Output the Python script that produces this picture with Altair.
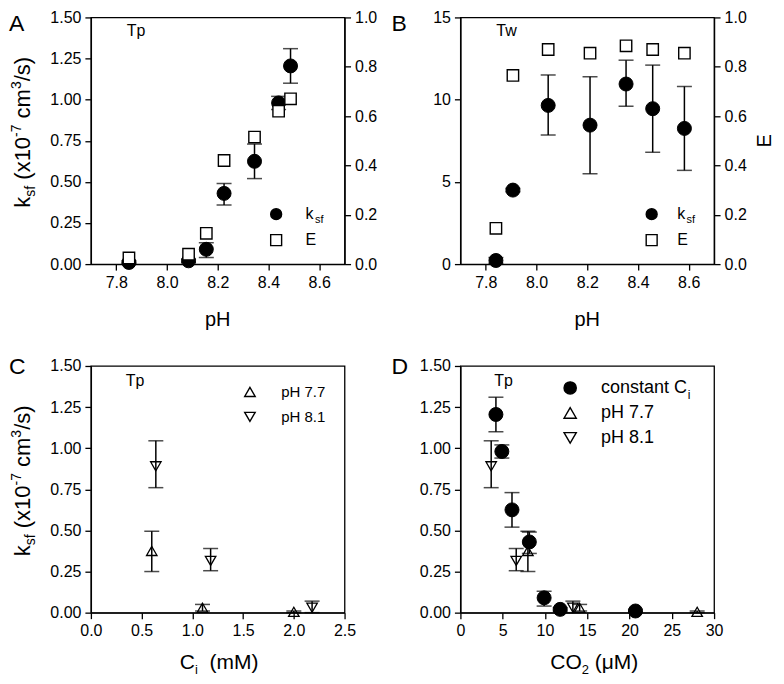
import altair as alt
import pandas as pd

# ---------------- data ----------------
# Panel A (Tp): k_sf (x1e-7 cm3/s) and E vs pH
A_ph = [7.85, 8.085, 8.155, 8.225, 8.345, 8.44, 8.487]
A_ksf = [0.01, 0.02, 0.09, 0.43, 0.625, 0.98, 1.205]
A_lo = [0.005, 0.01, 0.04, 0.36, 0.52, 0.94, 1.10]
A_hi = [0.02, 0.03, 0.13, 0.49, 0.73, 1.02, 1.31]
A_E = [0.025, 0.04, 0.125, 0.42, 0.515, 0.62, 0.67]

# Panel B (Tw)
B_ph = [7.84, 7.907, 8.046, 8.211, 8.353, 8.458, 8.583]
B_ksf = [0.22, 4.5, 9.65, 8.45, 10.95, 9.45, 8.25]
B_lo = [0.05, 4.4, 7.85, 5.5, 9.6, 6.8, 5.7]
B_hi = [0.4, 4.6, 11.5, 11.4, 12.4, 12.1, 10.8]
B_E = [0.145, 0.765, 0.87, 0.855, 0.885, 0.87, 0.855]

# Panel C (Tp): k_sf vs Ci
C77_ci = [0.6, 1.1, 2.0]
C77_ksf = [0.375, 0.03, 0.005]
C77_lo = [0.25, 0.01, 0.0]
C77_hi = [0.495, 0.05, 0.01]
C81_ci = [0.64, 1.18, 2.18]
C81_ksf = [0.89, 0.315, 0.03]
C81_lo = [0.76, 0.255, 0.0]
C81_hi = [1.045, 0.39, 0.07]

# Panel D (Tp): k_sf vs CO2
D_ci_co2 = [20.7, 11.8, 9.9, 8.15, 6.1, 4.9, 4.2]
D77_co2 = [7.98, 14.1, 28.0]
D81_co2 = [3.64, 6.6, 13.3]

# ---------------- styling helpers ----------------
FONT = "Liberation Sans"
W, H = 254, 247

AW = {'k': 500, 's': 500, 'f': 278, ' ': 278, '(': 333, ')': 333, 'x': 500,
      '1': 556, '0': 556, '-': 333, '7': 556, 'c': 500, 'm': 833, '3': 556,
      '/': 278, 'C': 722, 'O': 778, '2': 556, 'μ': 576, 'M': 833, 'i': 222,
      'p': 556, 'H': 722, 'o': 556, 'n': 556, 't': 278, 'a': 556, 'E': 667}


def text_w(s, size):
    return sum(AW.get(ch, 556) for ch in s) / 1000.0 * size


def one():
    return pd.DataFrame({"_": [0]})


def label(text, x, y, size, angle=0, align="left", baseline="alphabetic"):
    return alt.Chart(one()).mark_text(
        text=text, font=FONT, fontSize=size, align=align, baseline=baseline,
        angle=angle, color="black"
    ).encode(x=alt.value(x), y=alt.value(y))


def rich_h(pieces, x0, y0):
    out, x = [], x0
    for t, s, dy in pieces:
        core = t.lstrip(" ")
        x += text_w(t[:len(t) - len(core)], s)
        out.append(label(core, x, y0 + dy, s))
        x += text_w(core, s)
    return out


def rich_v(pieces, x0, y0):
    out, y = [], y0
    for t, s, dx in pieces:
        core = t.lstrip(" ")
        y -= text_w(t[:len(t) - len(core)], s)
        out.append(label(core, x0 + dx, y, s, angle=270))
        y -= text_w(core, s)
    return out


KSF_TITLE = [("k", 22, 0), ("sf", 14, 5), (" (x10", 22, 0), ("-7", 14, -9),
             (" cm", 22, 0), ("3", 14, -9), ("/s)", 22, 0)]


def ytitle():
    L = sum(text_w(t, s) for t, s, _ in KSF_TITLE)
    return rich_v(KSF_TITLE, -61, 115 + L / 2)


ksf_ax = alt.Axis(values=[0, 0.25, 0.5, 0.75, 1.0, 1.25, 1.5], format=".2f", title=None)
ksf_sc = alt.Scale(domain=[0, 1.5], nice=False)
e_ax = alt.Axis(orient="right", values=[0, 0.2, 0.4, 0.6, 0.8, 1.0], format=".1f", title=None)
e_sc = alt.Scale(domain=[0, 1], nice=False)
ph_ax = alt.Axis(values=[7.8, 8.0, 8.2, 8.4, 8.6], format=".1f", title=None)
ph_sc = alt.Scale(domain=[7.7, 8.7], nice=False)


def errbars(df, xf, xsc, xax, ysc, yax):
    base = alt.Chart(df)
    X = alt.X(xf, type="quantitative", scale=xsc, axis=xax)
    rule = base.mark_rule(color="black", strokeWidth=1.5).encode(
        x=X, y=alt.Y("lo:Q", scale=ysc, axis=yax), y2="hi:Q")
    lo = base.mark_tick(orient="horizontal", size=15, thickness=1.5, color="black").encode(
        x=X, y=alt.Y("lo:Q", scale=ysc, axis=yax))
    hi = base.mark_tick(orient="horizontal", size=15, thickness=1.5, color="black").encode(
        x=X, y=alt.Y("hi:Q", scale=ysc, axis=yax))
    return [rule, lo, hi]


def legend(x, y, size, fsize, offset, rowpad, expr=None):
    kw = dict(orient="none", legendX=x, legendY=y, title=None, symbolSize=size,
              symbolStrokeColor="black", symbolStrokeWidth=1.4, labelFont=FONT,
              labelFontSize=fsize, labelColor="black", labelOffset=offset,
              rowPadding=rowpad, padding=0, symbolOffset=0)
    if expr:
        kw["labelExpr"] = expr
    return alt.Legend(**kw)


def enc3(dom, shapes, fills, leg):
    return dict(
        shape=alt.Shape("series:N", scale=alt.Scale(domain=dom, range=shapes), legend=leg),
        fill=alt.Fill("series:N", scale=alt.Scale(domain=dom, range=fills), legend=leg),
        stroke=alt.Stroke("series:N", scale=alt.Scale(domain=dom, range=["black"] * len(dom)), legend=leg),
    )


# ---------------- panels A and B ----------------
def ph_panel(ph, ksf, lo, hi, E, ksc, kax, tag, letter, letter_x, leg_x, lab_off, etitle):
    df = pd.DataFrame({"pH": ph, "ksf": ksf, "lo": lo, "hi": hi, "E": E})
    leg = legend(leg_x, H - 58, 120, 16, lab_off, 8,
                 "datum.label == 'ksf' ? 'k' : datum.label")
    enc = enc3(["ksf", "E"], ["circle", "square"], ["black", "white"], leg)
    X = alt.X("pH:Q", scale=ph_sc, axis=ph_ax)
    circles = alt.Chart(df).transform_calculate(series="'ksf'").mark_point(
        filled=True, size=196, strokeWidth=1, opacity=1).encode(
        x=X, y=alt.Y("ksf:Q", scale=ksc, axis=kax), **enc)
    squares = alt.Chart(df).transform_calculate(series="'E'").mark_point(
        filled=True, size=130, strokeWidth=1.4, opacity=1).encode(
        x=X, y=alt.Y("E:Q", scale=e_sc, axis=e_ax), **enc)
    left = alt.layer(*errbars(df, "pH", ph_sc, ph_ax, ksc, kax), circles)
    core = alt.layer(left, squares).resolve_scale(y="independent")
    lab_start = leg_x + 120 ** 0.5 + 6 + lab_off
    texts = [label(tag, 36, 19, 16), label(letter, letter_x, 14, 23),
             label("pH", W / 2, H + 62, 20, align="center"),
             label("sf", lab_start + text_w("k", 16) + 0.5, H - 41, 11)]
    if etitle:
        texts.append(label("E", W + 57, H / 2, 20, angle=270, align="center"))
    return alt.layer(core, *texts).properties(width=W, height=H)


pA = ph_panel(A_ph, A_ksf, A_lo, A_hi, A_E, ksf_sc, ksf_ax, "Tp", "A", -82, 177.5, 21.5, False)
pA = alt.layer(pA, *ytitle()).properties(width=W, height=H)

b_sc = alt.Scale(domain=[0, 15], nice=False)
b_ax = alt.Axis(values=[0, 5, 10, 15], format="d", title=None)
pB = ph_panel(B_ph, B_ksf, B_lo, B_hi, B_E, b_sc, b_ax, "Tw", "B", -69, 183.5, 17.5, True)

# ---------------- panel C ----------------
dfC = pd.DataFrame({
    "ci": C77_ci + C81_ci,
    "ksf": C77_ksf + C81_ksf,
    "lo": C77_lo + C81_lo,
    "hi": C77_hi + C81_hi,
    "series": ["pH 7.7"] * len(C77_ci) + ["pH 8.1"] * len(C81_ci),
})
ci_sc = alt.Scale(domain=[0, 2.5], nice=False)
ci_ax = alt.Axis(values=[0, 0.5, 1.0, 1.5, 2.0, 2.5], format=".1f", title=None)
legC = legend(151.75, 18.5, 110, 15, 23.75, 9)
triC = alt.Chart(dfC).mark_point(size=110, strokeWidth=1.3, opacity=1).encode(
    x=alt.X("ci:Q", scale=ci_sc, axis=ci_ax),
    y=alt.Y("ksf:Q", scale=ksf_sc, axis=ksf_ax),
    **enc3(["pH 7.7", "pH 8.1"], ["triangle-up", "triangle-down"],
           ["transparent", "transparent"], legC))
pC = alt.layer(
    *errbars(dfC, "ci", ci_sc, ci_ax, ksf_sc, ksf_ax), triC,
    label("Tp", 35, 20, 16), label("C", -82, 8, 23),
    *rich_h([("C", 21, 0), ("i", 13, 5), ("  (mM)", 21, 0)], 89, H + 56),
    *ytitle(),
).properties(width=W, height=H)

# ---------------- panel D ----------------
dfD = pd.DataFrame({
    "co2": D77_co2 + D81_co2 + D_ci_co2,
    "ksf": C77_ksf + C81_ksf + A_ksf,
    "lo": C77_lo + C81_lo + A_lo,
    "hi": C77_hi + C81_hi + A_hi,
    "series": ["pH 7.7"] * 3 + ["pH 8.1"] * 3 + ["constant Ci"] * len(A_ksf),
})
co2_sc = alt.Scale(domain=[0, 30], nice=False)
co2_ax = alt.Axis(values=[0, 5, 10, 15, 20, 25, 30], format="d", title=None)
legD = legend(100.9, 13, 150, 18, 21.9, 7,
              "datum.label == 'constant Ci' ? 'constant C' : datum.label")
domD = ["constant Ci", "pH 7.7", "pH 8.1"]
encD = enc3(domD, ["circle", "triangle-up", "triangle-down"],
            ["black", "transparent", "transparent"], legD)
XD = alt.X("co2:Q", scale=co2_sc, axis=co2_ax)
YD = alt.Y("ksf:Q", scale=ksf_sc, axis=ksf_ax)
triD = alt.Chart(dfD).transform_filter("datum.series != 'constant Ci'").mark_point(
    size=110, strokeWidth=1.3, opacity=1).encode(x=XD, y=YD, **encD)
cirD = alt.Chart(dfD).transform_filter("datum.series == 'constant Ci'").mark_point(
    size=196, strokeWidth=1, opacity=1).encode(x=XD, y=YD, **encD)
pD = alt.layer(
    *errbars(dfD, "co2", co2_sc, co2_ax, ksf_sc, ksf_ax), triD, cirD,
    label("Tp", 34, 20, 16), label("D", -69, 8, 23),
    label("i", 141 + text_w("constant C", 18) + 0.5, 33, 12),
    *rich_h([("CO", 21, 0), ("2", 13, 5), (" (μM)", 21, 0)], 90, H + 56),
).properties(width=W, height=H)

chart = alt.concat(
    pA, pB, pC, pD, columns=2, spacing={"row": 102, "column": 116}, bounds="flush"
).resolve_scale(
    shape="independent", fill="independent", stroke="independent"
).resolve_legend(
    shape="independent", fill="independent", stroke="independent"
).properties(padding=0, background="white").configure_axis(
    labelFont=FONT, labelFontSize=16, labelColor="black", domainColor="black",
    domainWidth=1.3, tickColor="black", tickWidth=1.3, tickSize=6, labelPadding=4,
    grid=False, labelFlush=False, labelOverlap=False, labelBound=False
).configure_view(stroke="black", strokeWidth=1.3)

chart.save("out.html", embed_options={"renderer": "svg", "actions": False})
